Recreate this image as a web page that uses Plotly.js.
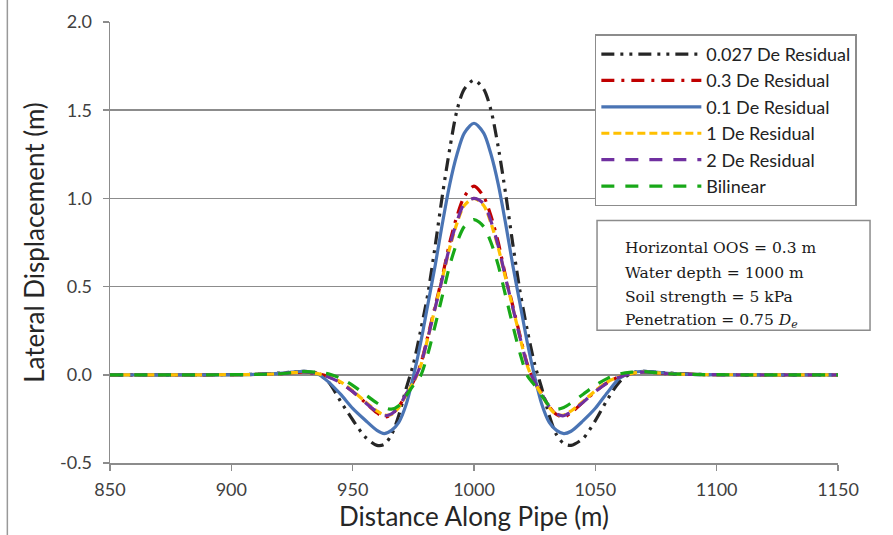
<!DOCTYPE html>
<html>
<head>
<meta charset="utf-8">
<script src="https://cdn.plot.ly/plotly-3.0.1.min.js"></script>
<style>html,body{margin:0;padding:0;background:#fff;}#chart{width:893px;height:535px;}</style>
</head>
<body>
<div id="chart"></div>
<script>
const distance = [850, 870, 890, 910, 920, 925, 930, 935, 940, 945, 950, 955, 960, 963, 966, 969, 972, 975, 978, 981, 984, 987, 990, 993, 996,
  1000,
  1004, 1007, 1010, 1013, 1016, 1019, 1022, 1025, 1028, 1031, 1034, 1037, 1040, 1045, 1050, 1055, 1060, 1065, 1070, 1075, 1080, 1090, 1110, 1130, 1150];

const res0027 = [0, 0, 0, 0.003, 0.01, 0.015, 0.02, 0.01, -0.04, -0.15, -0.255, -0.35, -0.40, -0.395, -0.34, -0.23, -0.08, 0.06, 0.25, 0.46, 0.73, 1.02, 1.28, 1.50, 1.62,
  1.67,
  1.62, 1.50, 1.29, 1.03, 0.74, 0.47, 0.25, 0.06, -0.08, -0.23, -0.34, -0.39, -0.40, -0.36, -0.26, -0.14, -0.04, 0.01, 0.02, 0.015, 0.01, 0.003, 0, 0, 0];

const res03 = [0, 0, 0, 0.002, 0.006, 0.012, 0.015, 0.008, -0.01, -0.045, -0.095, -0.155, -0.215, -0.24, -0.225, -0.18, -0.11, -0.04, 0.06, 0.22, 0.39, 0.56, 0.75, 0.90, 1.01,
  1.07,
  1.01, 0.90, 0.75, 0.56, 0.39, 0.22, 0.06, -0.04, -0.11, -0.18, -0.225, -0.24, -0.215, -0.155, -0.095, -0.045, -0.01, 0.008, 0.015, 0.012, 0.006, 0.002, 0, 0, 0];

const res01 = [0, 0, 0, 0.002, 0.008, 0.015, 0.02, 0.008, -0.04, -0.11, -0.19, -0.255, -0.315, -0.333, -0.315, -0.27, -0.17, -0.01, 0.18, 0.40, 0.62, 0.86, 1.08, 1.25, 1.37,
  1.426,
  1.37, 1.25, 1.08, 0.86, 0.62, 0.40, 0.18, -0.01, -0.17, -0.27, -0.315, -0.333, -0.32, -0.26, -0.19, -0.10, -0.02, 0.01, 0.02, 0.015, 0.008, 0.002, 0, 0, 0];

const res1 = [0, 0, 0, 0.002, 0.006, 0.012, 0.015, 0.008, -0.01, -0.04, -0.09, -0.15, -0.205, -0.228, -0.225, -0.185, -0.115, -0.045, 0.05, 0.21, 0.38, 0.55, 0.72, 0.86, 0.96,
  1.0,
  0.96, 0.86, 0.72, 0.55, 0.38, 0.21, 0.05, -0.045, -0.115, -0.185, -0.225, -0.228, -0.205, -0.15, -0.09, -0.04, -0.01, 0.008, 0.015, 0.012, 0.006, 0.002, 0, 0, 0];

const res2 = [0, 0, 0, 0.002, 0.006, 0.012, 0.015, 0.008, -0.012, -0.045, -0.095, -0.155, -0.21, -0.232, -0.222, -0.18, -0.11, -0.04, 0.055, 0.21, 0.38, 0.55, 0.73, 0.87, 0.97,
  1.0,
  0.97, 0.87, 0.73, 0.55, 0.38, 0.21, 0.055, -0.04, -0.11, -0.18, -0.222, -0.232, -0.21, -0.155, -0.095, -0.045, -0.012, 0.008, 0.015, 0.012, 0.006, 0.002, 0, 0, 0];

const bilinear = [0, 0, 0, 0.002, 0.006, 0.012, 0.018, 0.015, 0.005, -0.02, -0.06, -0.11, -0.16, -0.185, -0.195, -0.175, -0.12, -0.06, -0.005, 0.12, 0.28, 0.45, 0.62, 0.75, 0.84,
  0.88,
  0.84, 0.75, 0.62, 0.45, 0.28, 0.12, -0.005, -0.06, -0.12, -0.175, -0.195, -0.185, -0.16, -0.11, -0.06, -0.02, 0.005, 0.015, 0.018, 0.012, 0.006, 0.002, 0, 0, 0];

const seriesNames = ['0.027 De Residual', '0.3 De Residual', '0.1 De Residual', '1 De Residual', '2 De Residual', 'Bilinear'];
const seriesValues = [res0027, res03, res01, res1, res2, bilinear];
const seriesColors = ['#262626', '#c00000', '#4a74b4', '#ffc000', '#7030a0', '#18a818'];
const seriesDash = ['13px,6px,3px,6px,3px,6px', '13px,7px,3px,7px', 'solid', '8px,4px', '13px,11px', '13px,11px'];

const xTicks = [850, 900, 950, 1000, 1050, 1100, 1150];
const yTicks = [-0.5, 0, 0.5, 1.0, 1.5, 2.0];
const infoLines = ['Horizontal OOS = 0.3 m', 'Water depth = 1000 m', 'Soil strength = 5 kPa', 'Penetration = 0.75 <i>D<sub>e</sub></i>'];

const traces = seriesNames.map((n, i) => ({
  x: distance, y: seriesValues[i], name: n, type: 'scatter', mode: 'lines',
  legendgroup: 'g' + i,
  line: {color: seriesColors[i], width: 3.2, dash: seriesDash[i], shape: 'spline', smoothing: 0.8}
}));

const axisFont = {family: 'Lato, "Open Sans", sans-serif', size: 18, color: '#404040'};
const titleFont = {family: 'Lato, sans-serif', size: 26, color: '#262626'};
const infoY = [0.487, 0.431, 0.376, 0.323];

const annotations = infoLines.map((t, i) => ({
  xref: 'paper', yref: 'paper', x: 0.705, y: infoY[i], xanchor: 'left', yanchor: 'middle',
  text: t, showarrow: false, font: {family: '"DejaVu Serif", serif', size: 15.5, color: '#1a1a1a'}
}));

const layout = {
  width: 893, height: 535,
  margin: {l: 110, r: 55, t: 22, b: 72},
  paper_bgcolor: '#fff', plot_bgcolor: '#fff',
  showlegend: true,
  legend: {
    x: 0.666, y: 0.972, xanchor: 'left', yanchor: 'top',
    bgcolor: '#fff', bordercolor: '#8c8c8c', borderwidth: 1.5,
    font: {family: 'Lato, sans-serif', size: 18, color: '#222'},
    itemwidth: 100, tracegroupgap: 0, traceorder: 'grouped'
  },
  xaxis: {
    range: [850, 1150], tickvals: xTicks, ticktext: xTicks.map(String),
    showgrid: false, zeroline: false, showline: true, linecolor: '#8c8c8c', linewidth: 1.5,
    ticks: 'outside', ticklen: 6, tickcolor: '#8c8c8c', tickwidth: 1.5,
    ticklabelstandoff: 4,
    tickfont: axisFont,
    title: {text: 'Distance Along Pipe (m)', font: titleFont, standoff: 2}
  },
  yaxis: {
    range: [-0.5, 2.0], tickvals: yTicks, ticktext: yTicks.map(v => v.toFixed(1)),
    showgrid: true, gridcolor: '#8c8c8c', gridwidth: 1.5, zeroline: false,
    showline: true, linecolor: '#8c8c8c', linewidth: 1.5,
    ticks: 'outside', ticklen: 6, tickcolor: '#8c8c8c', tickwidth: 1.5,
    ticklabelstandoff: 7,
    tickfont: axisFont,
    title: {text: 'Lateral Displacement (m)', font: titleFont, standoff: 8}
  },
  shapes: [
    {type: 'rect', xref: 'paper', yref: 'paper', x0: 0.669, x1: 1.044, y0: 0.301, y1: 0.550,
     line: {color: '#8c8c8c', width: 1.5}, fillcolor: '#fff', layer: 'above'},
    {type: 'line', xref: 'paper', yref: 'paper', x0: -0.141, x1: -0.141, y0: -0.165, y1: 1.05,
     line: {color: '#999', width: 1.5}}
  ],
  annotations: annotations
};

Plotly.newPlot('chart', traces, layout, {displayModeBar: false, staticPlot: true});
</script>
</body>
</html>
